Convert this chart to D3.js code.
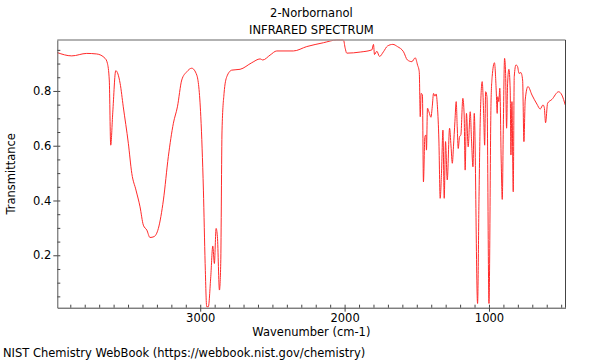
<!DOCTYPE html>
<html>
<head>
<meta charset="utf-8">
<script src="https://cdn.jsdelivr.net/npm/d3@7"></script>
<style>
  html, body { margin: 0; padding: 0; background: #fff; }
  svg { display: block; }
  text { font-family: "DejaVu Sans", sans-serif; fill: #000; }
</style>
</head>
<body>
<svg id="chart" width="600" height="360"></svg>
<script>
const titleLines = ["2-Norbornanol", "INFRARED SPECTRUM"];
const xLabel = "Wavenumber (cm-1)";
const yLabel = "Transmittance";
const footer = "NIST Chemistry WebBook (https://webbook.nist.gov/chemistry)";

const wavenumbers = [
  3990, 3890, 3786, 3717, 3659, 3643, 3630, 3620, 3606, 3585,
  3555, 3533, 3498, 3474, 3445, 3417, 3394, 3370, 3348, 3320,
  3290, 3255, 3221, 3186, 3158, 3128, 3093, 3059, 3024, 2996,
  2978, 2966, 2955, 2944, 2927, 2913, 2902, 2890, 2881, 2867,
  2858, 2849, 2835, 2816, 2781, 2724, 2643, 2585, 2567, 2516,
  2470, 2355, 2262, 2147, 2054, 2008, 1996, 1985, 1892, 1811,
  1800, 1793, 1777, 1758, 1731, 1703, 1666, 1634, 1592, 1565,
  1534, 1511, 1495, 1483, 1476, 1470, 1461, 1454, 1444, 1437,
  1433, 1426, 1416, 1402, 1393, 1384, 1374, 1366, 1357, 1347,
  1338, 1329, 1319, 1310, 1301, 1289, 1273, 1263, 1254, 1246,
  1236, 1227, 1220, 1213, 1204, 1195, 1181, 1172, 1165, 1156,
  1144, 1130, 1121, 1111, 1102, 1079, 1069, 1060, 1047, 1037,
  1030, 1023, 1014, 1000, 986, 978, 962, 950, 943, 939,
  932, 925, 915, 908, 901, 892, 885, 878, 871, 862,
  853, 848, 841, 832, 825, 813, 802, 792, 779, 767,
  758, 749, 730, 702, 668, 645, 626, 617, 608, 594,
  564, 518, 495, 472
];
const transmittance = [
  0.940, 0.928, 0.937, 0.935, 0.919, 0.901, 0.840, 0.602, 0.720, 0.874,
  0.828, 0.742, 0.609, 0.499, 0.438, 0.377, 0.310, 0.292, 0.265, 0.268,
  0.298, 0.402, 0.560, 0.682, 0.742, 0.840, 0.870, 0.883, 0.858, 0.706,
  0.438, 0.170, 0.012, 0.012, 0.122, 0.234, 0.170, 0.298, 0.268, 0.073,
  0.170, 0.657, 0.791, 0.852, 0.876, 0.879, 0.903, 0.917, 0.913, 0.931,
  0.946, 0.946, 0.962, 0.976, 0.986, 0.986, 0.956, 0.938, 0.942, 0.950,
  0.970, 0.933, 0.945, 0.926, 0.943, 0.964, 0.970, 0.962, 0.943, 0.913,
  0.907, 0.921, 0.895, 0.870, 0.706, 0.791, 0.785, 0.468, 0.633, 0.639,
  0.584, 0.737, 0.724, 0.704, 0.742, 0.791, 0.781, 0.789, 0.742, 0.621,
  0.408, 0.499, 0.657, 0.408, 0.615, 0.475, 0.664, 0.599, 0.536, 0.596,
  0.688, 0.761, 0.669, 0.590, 0.633, 0.639, 0.773, 0.712, 0.511, 0.718,
  0.596, 0.724, 0.621, 0.523, 0.718, 0.024, 0.414, 0.706, 0.834, 0.718,
  0.602, 0.797, 0.779, 0.024, 0.755, 0.852, 0.903, 0.803, 0.718, 0.779,
  0.761, 0.810, 0.536, 0.404, 0.657, 0.919, 0.864, 0.664, 0.828, 0.879,
  0.803, 0.566, 0.761, 0.432, 0.852, 0.895, 0.889, 0.864, 0.867, 0.840,
  0.615, 0.767, 0.816, 0.785, 0.752, 0.734, 0.749, 0.740, 0.684, 0.755,
  0.769, 0.797, 0.785, 0.749
];
const xMajorTicks = [3000, 2000, 1000];
const yMajorTicks = [0.2, 0.4, 0.6, 0.8];

const svg = d3.select("#chart");
const pLeft = 57.3, pRight = 565.5, pTop = 40, pBottom = 307.7;
const fs = 11.5;

const x = d3.scaleLinear().domain([3990, 470]).range([pLeft, pRight]);
const y = d3.scaleLinear().domain([0.0086, 0.986]).range([pBottom, pTop]);

const data = wavenumbers.map((w, i) => ({ w, t: transmittance[i] }));

const clipId = "plotclip";
svg.append("defs").append("clipPath").attr("id", clipId)
  .append("rect").attr("x", pLeft).attr("y", pTop - 1)
  .attr("width", pRight - pLeft).attr("height", pBottom - pTop + 1);

// spectrum
const line = d3.line().x(d => x(d.w)).y(d => y(d.t)).curve(d3.curveMonotoneX);
svg.append("path").datum(data)
  .attr("clip-path", `url(#${clipId})`)
  .attr("fill", "none")
  .attr("stroke", "#ff2a2a")
  .attr("stroke-width", 1)
  .attr("d", line);

// frame: top and right
svg.append("line").attr("x1", pLeft).attr("x2", pRight).attr("y1", pTop).attr("y2", pTop)
  .attr("stroke", "#999").attr("stroke-width", 1.5);
svg.append("line").attr("x1", pRight).attr("x2", pRight).attr("y1", pTop).attr("y2", pBottom)
  .attr("stroke", "#444").attr("stroke-width", 1);

// x minor ticks (inward)
const xMinor = d3.range(500, 3901, 100);
const gxMinor = svg.append("g").attr("transform", `translate(0,${pBottom})`)
  .call(d3.axisBottom(x).tickValues(xMinor).tickSize(-3).tickFormat(""));
gxMinor.select(".domain").remove();
gxMinor.selectAll("line").attr("stroke", "#444");

// x major
const gx = svg.append("g").attr("transform", `translate(0,${pBottom})`)
  .call(d3.axisBottom(x).tickValues(xMajorTicks).tickSize(4).tickSizeOuter(0).tickFormat(d3.format("d")).tickPadding(2));
gx.select(".domain").attr("stroke", "#444");
gx.selectAll("line").attr("stroke", "#444");
gx.selectAll("text").attr("font-size", fs).attr("font-family", "DejaVu Sans").attr("fill", "#000");

// y minor ticks (inward)
const yMinor = d3.range(1, 20).map(i => i * 0.05);
const gyMinor = svg.append("g").attr("transform", `translate(${pLeft},0)`)
  .call(d3.axisLeft(y).tickValues(yMinor).tickSize(-3).tickFormat(""));
gyMinor.select(".domain").remove();
gyMinor.selectAll("line").attr("stroke", "#444");

// y major
const gy = svg.append("g").attr("transform", `translate(${pLeft},0)`)
  .call(d3.axisLeft(y).tickValues(yMajorTicks).tickSize(4).tickSizeOuter(0).tickFormat(d3.format(".1f")).tickPadding(2));
gy.select(".domain").attr("stroke", "#555");
gy.selectAll("line").attr("stroke", "#444");
gy.selectAll("text").attr("font-size", fs).attr("font-family", "DejaVu Sans").attr("fill", "#000");

// titles
const cx = (pLeft + pRight) / 2;
svg.append("text").attr("x", cx).attr("y", 17).attr("text-anchor", "middle")
  .attr("font-size", fs).text(titleLines[0]);
svg.append("text").attr("x", cx).attr("y", 34).attr("text-anchor", "middle")
  .attr("font-size", fs).text(titleLines[1]);

svg.append("text").attr("x", cx).attr("y", 336).attr("text-anchor", "middle")
  .attr("font-size", fs).text(xLabel);

svg.append("text").attr("transform", `translate(15,${(pTop + pBottom) / 2}) rotate(-90)`)
  .attr("text-anchor", "middle").attr("font-size", fs).text(yLabel);

svg.append("text").attr("x", 3).attr("y", 357).attr("font-size", fs).text(footer);
</script>
</body>
</html>
